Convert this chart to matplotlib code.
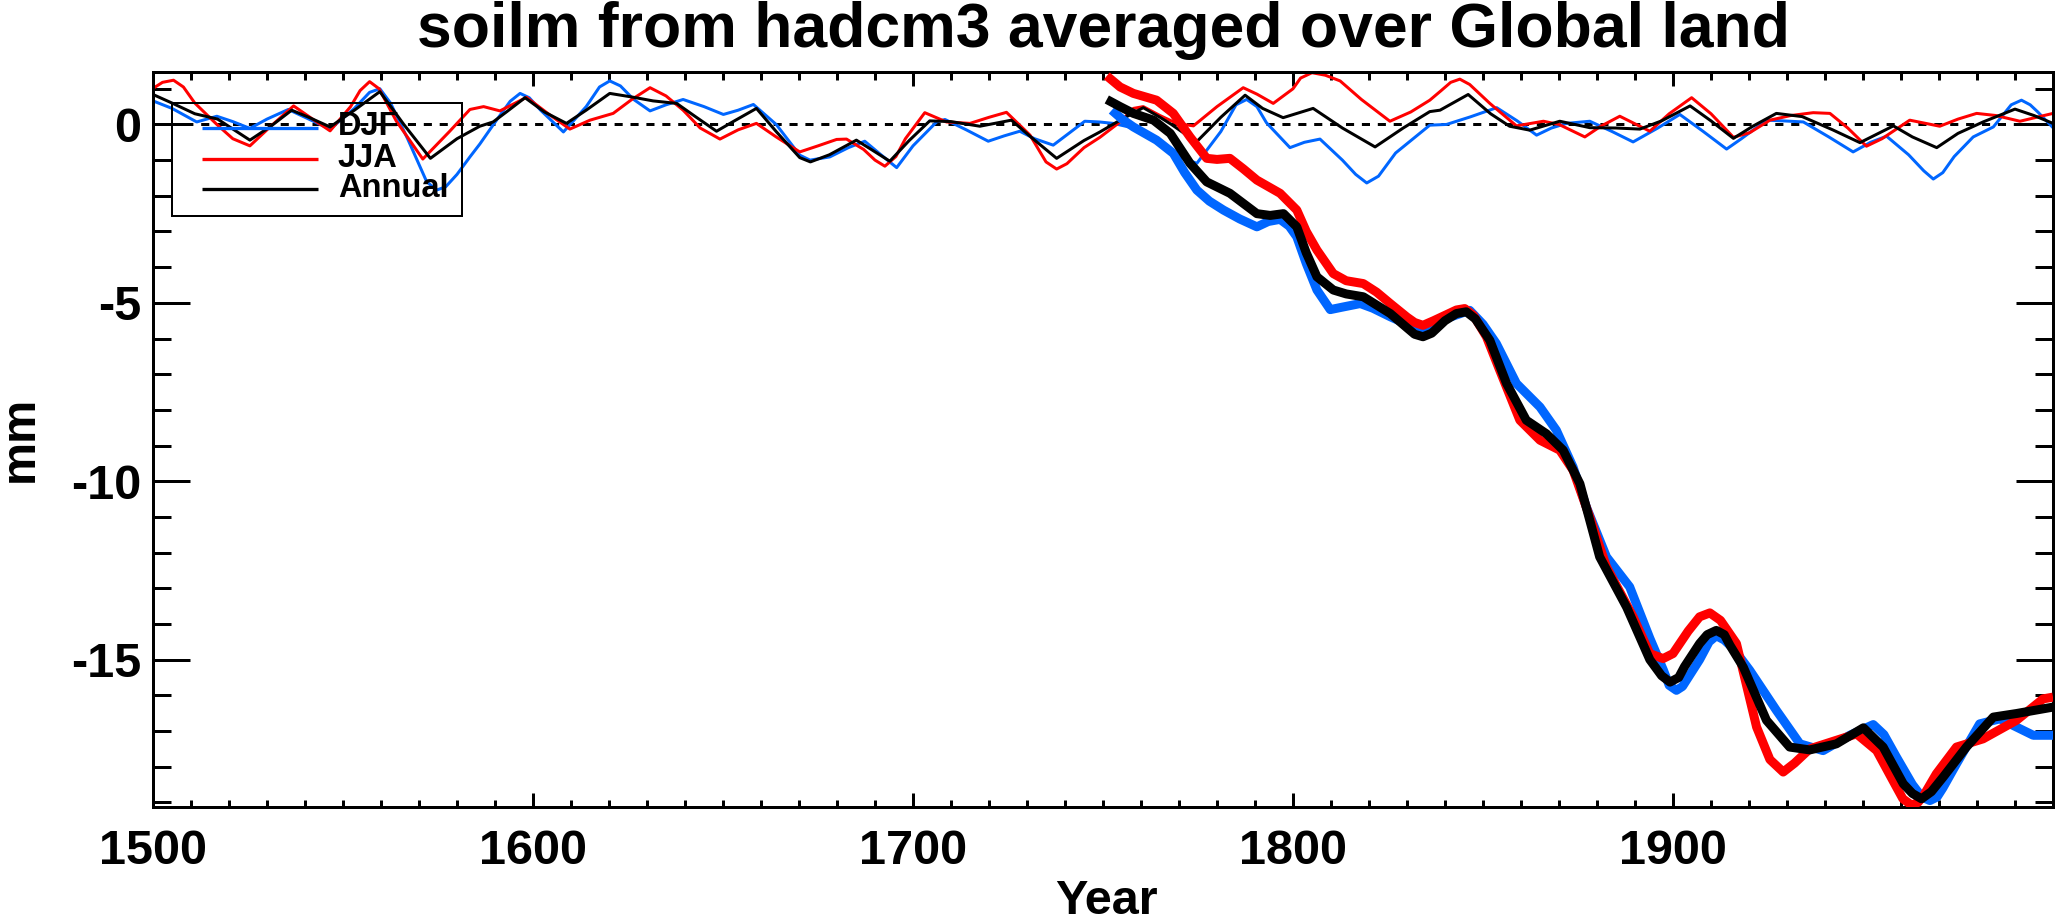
import matplotlib
matplotlib.use("Agg")
import matplotlib.pyplot as plt
from matplotlib.ticker import MultipleLocator, FixedLocator
from matplotlib.patches import Rectangle

plt.rcParams['font.family'] = ['Liberation Sans', 'DejaVu Sans']
plt.rcParams['font.weight'] = 'bold'
plt.rcParams['axes.unicode_minus'] = False

# ---------------- data ----------------
title = "soilm from hadcm3 averaged over Global land"
series_names = ["DJF", "JJA", "Annual"]
x_tick_values = [1500, 1600, 1700, 1800, 1900]
x_tick_labels = ["1500", "1600", "1700", "1800", "1900"]
y_tick_values = [-15, -10, -5, 0]
y_tick_labels = ["-15", "-10", "-5", "0"]

# thin lines: control run 1500-2000
djf_ctl_years = [1500, 1505, 1511.5, 1516.8, 1521, 1525.5, 1530, 1535.6, 1541, 1546.6, 1553, 1557,
                 1559.7, 1562.5, 1567, 1572, 1574.6, 1577, 1580, 1583.4, 1586, 1590.4, 1594, 1596.6,
                 1599, 1602, 1608, 1614, 1617.5, 1620.2, 1623, 1626.5, 1630.8, 1635, 1639.5, 1645,
                 1650.1, 1654, 1658, 1664, 1670.2, 1672.9, 1678.1, 1683, 1687.3, 1691, 1695.7, 1700,
                 1706.2, 1708.4, 1714, 1719.8, 1724, 1728.1, 1732, 1736.9, 1741, 1745.2, 1749, 1752.7,
                 1758, 1764, 1770, 1774.7, 1781, 1785, 1787.8, 1790.5, 1793, 1799.2, 1803, 1807.1,
                 1813, 1816.5, 1819.4, 1822.5, 1827, 1836, 1840.4, 1846.6, 1853.6, 1859, 1864.1, 1868,
                 1872, 1878.1, 1884, 1889.5, 1896, 1901.8, 1908, 1914.1, 1918, 1924.6, 1929, 1934.3,
                 1941, 1947.4, 1952, 1956.2, 1962, 1966, 1968.5, 1971, 1974, 1979, 1984.3, 1989,
                 1991.7, 1994, 1996, 2000]
djf_ctl_values = [0.66, 0.45, 0.07, 0.23, 0.08, -0.11, 0.15, 0.42, 0.15, -0.13, 0.45, 0.9,
                  1.0, 0.6, -0.4, -1.6, -1.84, -1.75, -1.4, -0.91, -0.55, 0.12, 0.65, 0.87,
                  0.75, 0.4, -0.21, 0.5, 1.05, 1.22, 1.08, 0.7, 0.38, 0.55, 0.7, 0.5,
                  0.28, 0.4, 0.56, 0.0, -0.86, -1.0, -0.91, -0.65, -0.47, -0.8, -1.21, -0.6,
                  0.07, 0.14, -0.15, -0.47, -0.32, -0.19, -0.4, -0.58, -0.25, 0.09, 0.07, 0.03,
                  -0.1, -0.45, -0.9, -1.09, -0.2, 0.55, 0.70, 0.5, 0.05, -0.65, -0.5, -0.41,
                  -1.0, -1.4, -1.64, -1.45, -0.8, -0.02, 0.0, 0.21, 0.47, 0.1, -0.3, -0.1,
                  0.03, 0.09, -0.2, -0.49, -0.1, 0.28, -0.2, -0.69, -0.4, 0.12, 0.1, 0.07,
                  -0.35, -0.77, -0.5, -0.33, -0.85, -1.3, -1.53, -1.35, -0.9, -0.35, -0.07, 0.55,
                  0.68, 0.55, 0.35, -0.09]

jja_ctl_years = [1500, 1502.5, 1505.4, 1508, 1511, 1516.8, 1521, 1525.5, 1531, 1537, 1542, 1546.6,
                 1552, 1554.5, 1557, 1559.5, 1564, 1571, 1578, 1583.4, 1587, 1591.3, 1598.3, 1604,
                 1609.7, 1615, 1621.1, 1626, 1630.8, 1635, 1639.5, 1644, 1649.2, 1654, 1658.8, 1664,
                 1670.2, 1675, 1679.9, 1682.5, 1687, 1690, 1692.6, 1695.5, 1698, 1703.1, 1708.8, 1715,
                 1720, 1724.6, 1730.8, 1735, 1737.8, 1740.5, 1745, 1749.2, 1754.5, 1758, 1760.6, 1765,
                 1769.4, 1773.8, 1780, 1786.9, 1790.5, 1794.8, 1800, 1802, 1805, 1808.5, 1812.4, 1818,
                 1825.5, 1831, 1836, 1839, 1841.5, 1843.9, 1846.5, 1851.8, 1858.8, 1865.9, 1870, 1876.8,
                 1881, 1886, 1893.9, 1899, 1904.9, 1910, 1915.9, 1920.2, 1925.5, 1931, 1936.9, 1941.3,
                 1946, 1950.9, 1955, 1962.3, 1970.2, 1975, 1979.9, 1985, 1991.3, 2000]
jja_ctl_values = [1.01, 1.18, 1.24, 1.05, 0.6, 0.0, -0.4, -0.6, -0.05, 0.52, 0.15, -0.18,
                  0.5, 0.95, 1.2, 1.0, 0.1, -0.97, -0.2, 0.42, 0.5, 0.38, 0.76, 0.3,
                  -0.13, 0.12, 0.31, 0.7, 1.03, 0.8, 0.4, -0.1, -0.41, -0.15, 0.03, -0.35,
                  -0.77, -0.6, -0.42, -0.41, -0.7, -1.0, -1.17, -0.9, -0.4, 0.33, 0.07, 0.03,
                  0.2, 0.34, -0.3, -1.05, -1.25, -1.1, -0.65, -0.36, 0.07, 0.45, 0.5, 0.25,
                  0.03, -0.04, 0.5, 1.03, 0.85, 0.59, 1.0, 1.3, 1.45, 1.38, 1.22, 0.7,
                  0.09, 0.35, 0.68, 0.95, 1.18, 1.27, 1.12, 0.59, -0.04, 0.09, 0.0, -0.35,
                  -0.05, 0.23, -0.19, 0.3, 0.75, 0.3, -0.36, -0.23, 0.12, 0.25, 0.33, 0.31,
                  -0.1, -0.61, -0.4, 0.12, -0.05, 0.15, 0.31, 0.25, 0.09, 0.31]

ann_ctl_years = [1500, 1505, 1511, 1517, 1525.5, 1531, 1536.5, 1541, 1546.6, 1553, 1559.7, 1566,
                 1573, 1580, 1586, 1589.5, 1593, 1597.9, 1603, 1608.8, 1614, 1620.2, 1626, 1631.6,
                 1637.8, 1643, 1648.3, 1653, 1658.8, 1664, 1670.2, 1673, 1678, 1685.1, 1689, 1693.9,
                 1699, 1704.4, 1710, 1717.6, 1725.9, 1731, 1737.8, 1745, 1749.2, 1754.5, 1760.6, 1765,
                 1768, 1774.6, 1781, 1787.4, 1792, 1797.4, 1805.3, 1813, 1821.6, 1829, 1836, 1838.7,
                 1846.1, 1852, 1857, 1862.3, 1870.2, 1878.1, 1885, 1891.3, 1897, 1904.5, 1910, 1915.9,
                 1921, 1927.2, 1934, 1942, 1949.2, 1958, 1963, 1969.4, 1975, 1981.6, 1990, 1995, 2000]
ann_ctl_values = [0.84, 0.6, 0.3, 0.15, -0.44, -0.05, 0.4, 0.2, -0.07, 0.4, 0.92, 0.0,
                  -0.95, -0.4, -0.05, 0.07, 0.35, 0.75, 0.35, 0.03, 0.4, 0.87, 0.77, 0.66,
                  0.59, 0.2, -0.19, 0.1, 0.45, -0.2, -0.93, -1.05, -0.85, -0.44, -0.7, -1.03,
                  -0.45, 0.10, 0.08, -0.05, 0.12, -0.35, -0.95, -0.45, -0.21, 0.12, 0.47, 0.2,
                  0.0, -0.49, 0.2, 0.82, 0.45, 0.19, 0.45, -0.1, -0.63, -0.1, 0.36, 0.40,
                  0.84, 0.3, -0.05, -0.16, 0.09, -0.09, -0.1, -0.13, 0.1, 0.52, 0.1, -0.39,
                  -0.05, 0.31, 0.22, -0.15, -0.51, -0.04, -0.35, -0.65, -0.25, 0.07, 0.43, 0.25, 0.03]

# thick lines: forced run 1750-2000
djf_exp_years = [1752.3, 1755, 1758, 1764.1, 1768.5, 1771.5, 1774.7, 1778, 1781.7, 1786, 1790.5,
                 1793.5, 1796.6, 1799, 1801, 1803.5, 1806.3, 1809.8, 1813, 1817.7, 1821, 1825.6,
                 1830, 1834.3, 1840, 1846.5, 1850, 1853.5, 1858.8, 1865, 1869.3, 1873.7, 1877.2,
                 1882.5, 1888.6, 1893.9, 1897.5, 1899, 1900.9, 1902.5, 1904, 1907, 1909.5, 1911.4,
                 1913.5, 1916, 1920.2, 1927.2, 1933.4, 1939.5, 1946.5, 1952.7, 1955.5, 1958.8, 1963,
                 1965.5, 1967.6, 1969.5, 1971, 1974.6, 1980.7, 1986, 1990.4, 1994.8, 2000]
djf_exp_values = [0.40, 0.15, -0.07, -0.44, -0.81, -1.35, -1.84, -2.15, -2.40, -2.65, -2.87,
                  -2.72, -2.66, -2.85, -3.15, -3.9, -4.64, -5.19, -5.12, -5.02, -5.15, -5.39,
                  -5.6, -5.8, -5.45, -5.21, -5.6, -6.14, -7.26, -7.92, -8.57, -9.6, -10.72,
                  -12.12, -12.96, -14.4, -15.3, -15.72, -15.86, -15.75, -15.5, -15.0, -14.5, -14.33,
                  -14.45, -14.7, -15.3, -16.42, -17.36, -17.55, -17.12, -16.82, -17.1, -17.73, -18.5,
                  -18.85, -18.95, -18.85, -18.6, -17.92, -16.8, -16.66, -16.89, -17.12, -17.12]

jja_exp_years = [1751, 1754.5, 1758, 1764.1, 1768.5, 1772.9, 1777.3, 1780, 1783.4, 1787, 1790.5,
                 1796.6, 1801, 1803.5, 1806.3, 1810.6, 1814, 1818.5, 1822, 1825.6, 1830, 1832,
                 1834.2, 1837, 1840, 1843, 1845.2, 1847.5, 1850.9, 1854.4, 1859.7, 1865, 1870.2,
                 1873.7, 1878.1, 1882.5, 1889.5, 1893.9, 1897.4, 1900, 1904, 1907, 1909.7, 1912.5,
                 1916.7, 1922, 1925.5, 1929, 1932, 1936, 1943, 1948.3, 1953.6, 1958.8, 1960.5,
                 1962.8, 1964.5, 1966, 1969.3, 1974.6, 1981.6, 1990.4, 1997.4, 2000]
jja_exp_values = [1.36, 1.05, 0.87, 0.68, 0.31, -0.35, -0.95, -0.98, -0.95, -1.25, -1.56,
                  -1.93, -2.40, -3.0, -3.52, -4.18, -4.38, -4.46, -4.7, -5.02, -5.4, -5.55,
                  -5.63, -5.5, -5.35, -5.2, -5.16, -5.35, -5.95, -6.89, -8.29, -8.85, -9.13,
                  -9.69, -11.0, -12.4, -13.8, -14.83, -14.97, -14.83, -14.2, -13.8, -13.69, -13.9,
                  -14.55, -16.89, -17.8, -18.15, -17.9, -17.5, -17.26, -17.08, -17.55, -18.57, -18.9,
                  -19.08, -19.0, -18.8, -18.2, -17.45, -17.22, -16.7, -16.1, -16.05]

ann_exp_years = [1751, 1754.5, 1758, 1763.3, 1767.7, 1772.9, 1777.3, 1783.4, 1790.5, 1794, 1797.5,
                 1801, 1803.5, 1806.3, 1810.6, 1814, 1818.5, 1825.6, 1830, 1832, 1834.2, 1836.5,
                 1840, 1843, 1845.6, 1848, 1851.8, 1856.2, 1861.4, 1866.7, 1871.1, 1875.5, 1880.7,
                 1887.8, 1893.9, 1897, 1899.2, 1901.5, 1903, 1907, 1909, 1911.4, 1913.5, 1915,
                 1918.5, 1924.6, 1930.7, 1936, 1943, 1950.1, 1955.3, 1960.6, 1963, 1965.4, 1968,
                 1971.1, 1977.2, 1984.3, 1990.4, 2000]
ann_exp_values = [0.70, 0.5, 0.31, 0.12, -0.25, -1.09, -1.61, -1.93, -2.5, -2.55, -2.5,
                  -2.87, -3.6, -4.27, -4.64, -4.75, -4.83, -5.30, -5.7, -5.88, -5.95, -5.85,
                  -5.5, -5.3, -5.25, -5.45, -6.05, -7.26, -8.29, -8.67, -9.13, -10.07, -12.12,
                  -13.53, -15.0, -15.45, -15.63, -15.5, -15.2, -14.55, -14.3, -14.18, -14.3, -14.6,
                  -15.21, -16.7, -17.45, -17.53, -17.36, -16.91, -17.45, -18.48, -18.75, -18.9, -18.7,
                  -18.29, -17.45, -16.61, -16.51, -16.33]

# ---------------- styling ----------------
BLUE = '#0066ff'
RED = '#ff0000'
BLACK = '#000000'
PX = 72.0 / 100.0  # points per pixel at dpi 100
thin = 3 * PX
thick = 9 * PX

fig = plt.figure(figsize=(20.57, 9.24), dpi=100)
ax = fig.add_axes([153 / 2057, 1 - 807 / 924, 1900 / 2057, 735 / 924])

ax.axhline(0, color='black', lw=3 * PX, dashes=(2.7, 2.6), zorder=1)

ax.plot(djf_ctl_years, djf_ctl_values, color=BLUE, lw=thin, zorder=2)
ax.plot(jja_ctl_years, jja_ctl_values, color=RED, lw=thin, zorder=2)
ax.plot(ann_ctl_years, ann_ctl_values, color=BLACK, lw=thin, zorder=2)
ax.plot(djf_exp_years, djf_exp_values, color=BLUE, lw=thick, zorder=3, solid_capstyle='butt')
ax.plot(jja_exp_years, jja_exp_values, color=RED, lw=thick, zorder=3, solid_capstyle='butt')
ax.plot(ann_exp_years, ann_exp_values, color=BLACK, lw=thick, zorder=3, solid_capstyle='butt')

ax.set_xlim(1500, 2000)
ax.set_ylim(-19.13, 1.47)

ax.xaxis.set_major_locator(FixedLocator(x_tick_values))
ax.set_xticklabels(x_tick_labels)
ax.xaxis.set_minor_locator(MultipleLocator(10))
ax.yaxis.set_major_locator(FixedLocator(y_tick_values))
ax.set_yticklabels(y_tick_labels)
ax.yaxis.set_minor_locator(MultipleLocator(1))

for s in ax.spines.values():
    s.set_linewidth(3 * PX)

ax.tick_params(axis='both', which='both', direction='in', top=True, right=True,
               width=3 * PX, labelsize=35)
ax.tick_params(axis='x', which='major', length=14 * PX, pad=22 * PX)
ax.tick_params(axis='x', which='minor', length=7.5 * PX)
ax.tick_params(axis='y', which='major', length=37 * PX, pad=12 * PX)
ax.tick_params(axis='y', which='minor', length=18 * PX)
for lab in ax.get_xticklabels() + ax.get_yticklabels():
    lab.set_fontweight('bold')

# legend (drawn in axes fraction)
def fx(px):
    return (px - 153) / 1900.0

def fy(py):
    return (807 - py) / 735.0

ax.add_patch(Rectangle((fx(172), fy(216)), fx(462) - fx(172), fy(103) - fy(216),
                       transform=ax.transAxes, fill=False, lw=2 * PX, ec='black',
                       zorder=5, clip_on=False))
leg_colors = [BLUE, RED, BLACK]
leg_line_y = [128.3, 159, 189]
leg_base_y = [135, 167, 197]
for name, c, ly, by in zip(series_names, leg_colors, leg_line_y, leg_base_y):
    ax.plot([fx(202), fx(318)], [fy(ly), fy(ly)], transform=ax.transAxes, color=c,
            lw=3.3 * PX, solid_capstyle='butt', zorder=5, clip_on=False)
    ax.text(fx(338), fy(by), name, transform=ax.transAxes, fontsize=23.5,
            fontweight='bold', ha='left', va='baseline', zorder=5)

fig.text(1103 / 2057, 1 - 47 / 924, title, fontsize=45, fontweight='bold',
         ha='center', va='baseline')
fig.text(1106 / 2057, 1 - 914 / 924, "Year", fontsize=35, fontweight='bold',
         ha='center', va='baseline')
fig.text(33 / 2057, 1 - 439 / 924, "mm", fontsize=35, fontweight='bold', rotation=90,
         rotation_mode='anchor', ha='center', va='baseline')

fig.savefig("out.png", dpi=100)
